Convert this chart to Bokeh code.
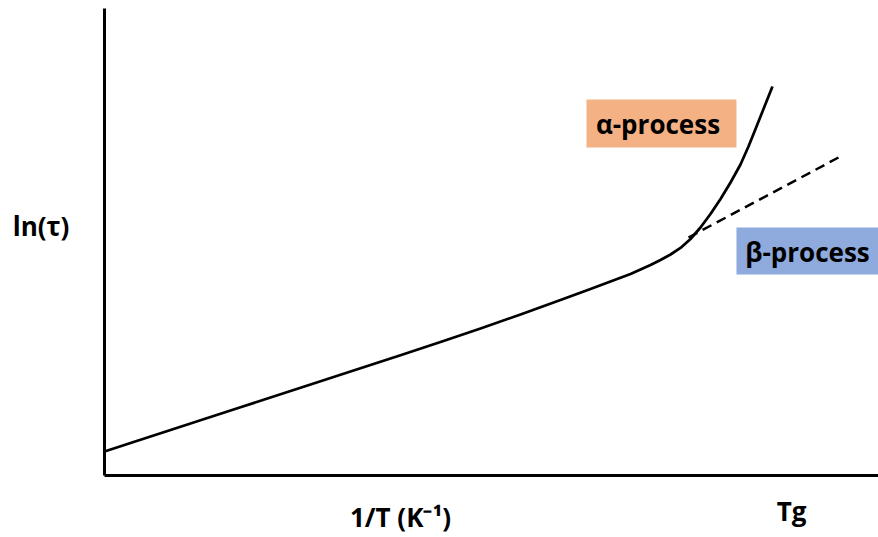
from bokeh.plotting import figure
from bokeh.models import Range1d, Label, BoxAnnotation, FixedTicker
from bokeh.embed import file_html
from bokeh.resources import INLINE

# Relaxation map: ln(tau) against inverse temperature (arbitrary units)
inv_T = [0.000, 0.336, 0.724, 1.240, 1.757, 2.274, 2.791, 3.307, 3.824,
         4.341, 4.858, 5.375, 5.891, 6.279, 6.537, 6.796, 6.925, 7.054,
         7.183, 7.313, 7.442, 7.571, 7.700, 7.829, 7.959, 8.088, 8.217,
         8.320, 8.424, 8.527, 8.630]
ln_tau = [0.514, 0.696, 0.904, 1.182, 1.460, 1.739, 2.017, 2.296, 2.574,
          2.859, 3.148, 3.448, 3.758, 3.994, 4.154, 4.315, 4.411, 4.507,
          4.615, 4.732, 4.872, 5.064, 5.310, 5.600, 5.921, 6.274, 6.660,
          7.045, 7.473, 7.901, 8.330]

# Arrhenius continuation of the secondary (beta) relaxation
beta_inv_T = [7.545, 9.483]
beta_ln_tau = [5.096, 6.809]

# Annotation boxes: (left, right, bottom, top) in data units
alpha_box = (6.227, 8.165, 7.024, 8.051)
beta_box = (8.165, 10.0, 4.304, 5.310)

# Text labels: (x, y baseline, text)
labels = [
    (7.151, 7.516, "α-process"),
    (9.083, 4.775, "β-process"),
    (-0.820, 5.332, "ln(τ)"),
    (3.824, -0.880, "1/T (K⁻¹)"),
    (8.876, -0.750, "Tg"),
]

FONT = "Open Sans"

p = figure(width=878, height=537, output_backend="svg", toolbar_location=None,
           x_range=Range1d(-1.344, 10.0), y_range=Range1d(-1.328, 10.171),
           min_border=0)
p.outline_line_color = None
p.background_fill_color = "white"
p.border_fill_color = "white"
p.xgrid.visible = False
p.ygrid.visible = False

# bare axis lines crossing at the origin, no ticks or tick labels
for ax in (p.xaxis, p.yaxis):
    ax.fixed_location = 0
    ax.bounds = (0, 10)
    ax.ticker = FixedTicker(ticks=[])
    ax.axis_line_width = 3
    ax.axis_line_color = "black"
    ax.major_tick_line_color = None
    ax.minor_tick_line_color = None

# shaded boxes behind the process labels
p.add_layout(BoxAnnotation(left=alpha_box[0], right=alpha_box[1],
                           bottom=alpha_box[2], top=alpha_box[3],
                           fill_color="#F4B183", fill_alpha=1.0,
                           line_color=None, level="underlay"))
p.add_layout(BoxAnnotation(left=beta_box[0], right=beta_box[1],
                           bottom=beta_box[2], top=beta_box[3],
                           fill_color="#8FAADC", fill_alpha=1.0,
                           line_color=None, level="underlay"))

p.line(inv_T, ln_tau, line_color="black", line_width=2.75,
       line_join="round")
p.line(beta_inv_T, beta_ln_tau, line_color="black", line_width=2.5,
       line_dash="10 6")

for x, y, txt in labels:
    p.add_layout(Label(x=x, y=y, text=txt, text_font=FONT,
                       text_font_style="bold", text_font_size="26px",
                       text_color="black", text_align="center",
                       text_baseline="alphabetic"))

open("out.html", "w").write(file_html(p, INLINE))
